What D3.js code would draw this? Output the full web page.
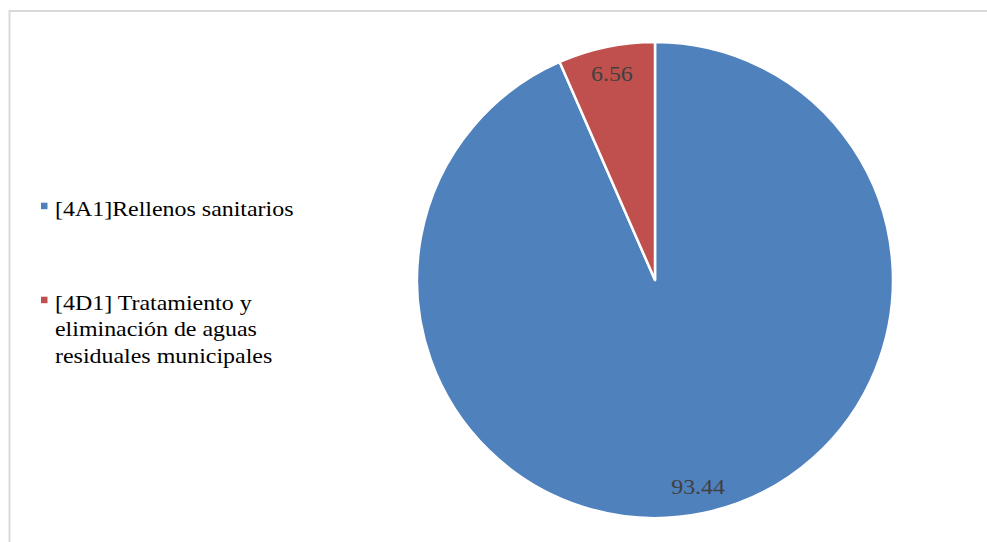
<!DOCTYPE html>
<html>
<head>
<meta charset="utf-8">
<script src="https://cdn.jsdelivr.net/npm/d3@7"></script>
<style>
  html, body { margin: 0; padding: 0; background: #fff; }
  svg { display: block; }
  text { font-family: "Liberation Serif", "Times New Roman", serif; }
</style>
</head>
<body>
<svg id="chart" width="987" height="542"></svg>
<script>
// Emission shares by source category (percent)
const categories = ["[4A1]Rellenos sanitarios", "[4D1] Tratamiento y eliminación de aguas residuales municipales"];
const legendLines = [["[4A1]Rellenos sanitarios"], ["[4D1] Tratamiento y", "eliminación de aguas", "residuales municipales"]];
const values = [93.44, 6.56];
const colors = ["#4F81BD", "#C0504D"];

const svg = d3.select("#chart");
const stretchX = 1.14; // typeface is set slightly wide

// Chart area frame
svg.append("rect")
  .attr("x", 9.5).attr("y", 11)
  .attr("width", 1000).attr("height", 600)
  .attr("fill", "#fff")
  .attr("stroke", "#d9d9d9")
  .attr("stroke-width", 2);

const cx = 655, cy = 280, r = 238;

const pie = d3.pie().sort(null).value(d => d);
const arcs = pie(values);
const arc = d3.arc().innerRadius(0).outerRadius(r);
const labelArc = d3.arc().innerRadius(r * 0.885).outerRadius(r * 0.885);

const g = svg.append("g").attr("transform", `translate(${cx},${cy})`);

g.selectAll("path.slice")
  .data(arcs)
  .join("path")
  .attr("class", "slice")
  .attr("d", arc)
  .attr("fill", (d, i) => colors[i])
  .attr("stroke", "#fff")
  .attr("stroke-width", 2.5)
  .attr("stroke-linejoin", "round");

g.selectAll("text.val")
  .data(arcs)
  .join("text")
  .attr("class", "val")
  .attr("transform", d => `translate(${labelArc.centroid(d)}) scale(${stretchX},1)`)
  .attr("text-anchor", "middle")
  .attr("dy", "0.35em")
  .attr("font-size", 21)
  .attr("fill", "#404040")
  .text(d => d.data.toFixed(2));

// Legend
const legendY = [216, 310];
const leg = svg.append("g");
legendLines.forEach((lines, i) => {
  leg.append("rect")
    .attr("x", 41).attr("y", legendY[i] - 13.3)
    .attr("width", 6.5).attr("height", 6.5)
    .attr("fill", colors[i]);
  const t = leg.append("text")
    .attr("transform", `translate(55,${legendY[i]}) scale(${stretchX},1)`)
    .attr("font-size", 21)
    .attr("fill", "#000");
  lines.forEach((ln, k) => {
    t.append("tspan").attr("x", 0).attr("y", k * 26.5).text(ln);
  });
});
</script>
</body>
</html>
